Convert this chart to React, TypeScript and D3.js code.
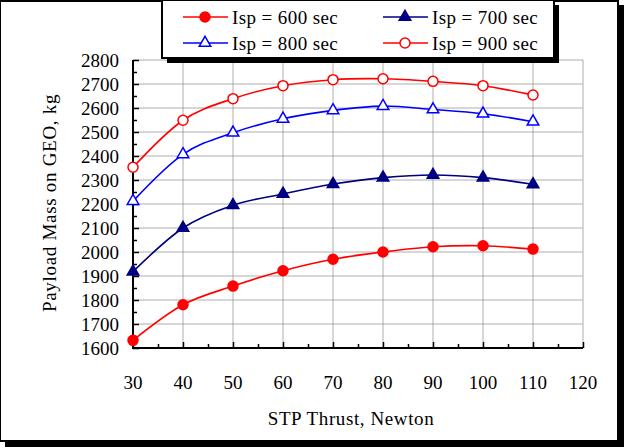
import React, { useEffect, useRef } from 'react';
import * as d3 from 'd3';

const thrust = [30, 40, 50, 60, 70, 80, 90, 100, 110];
const isp600 = [1632, 1780, 1858, 1922, 1970, 2000, 2022, 2026, 2012];
const isp700 = [1918, 2100, 2195, 2242, 2283, 2310, 2321, 2310, 2282];
const isp800 = [2212, 2407, 2497, 2555, 2590, 2608, 2594, 2576, 2543];
const isp900 = [2353, 2549, 2639, 2693, 2718, 2722, 2711, 2693, 2654];
const xTicks = [30, 40, 50, 60, 70, 80, 90, 100, 110, 120];
const yTicks = [1600, 1700, 1800, 1900, 2000, 2100, 2200, 2300, 2400, 2500, 2600, 2700, 2800];

interface Series {
  name: string;
  values: number[];
  color: string;
  shape: 'circle' | 'triangle';
  filled: boolean;
}

const series: Series[] = [
  { name: 'Isp = 600 sec', values: isp600, color: '#ff0000', shape: 'circle', filled: true },
  { name: 'Isp = 700 sec', values: isp700, color: '#000080', shape: 'triangle', filled: true },
  { name: 'Isp = 800 sec', values: isp800, color: '#0000ff', shape: 'triangle', filled: false },
  { name: 'Isp = 900 sec', values: isp900, color: '#ff0000', shape: 'circle', filled: false },
];

const FONT = "'Liberation Serif', 'Times New Roman', Times, serif";

const App: React.FC = () => {
  const svgRef = useRef<SVGSVGElement>(null);

  useEffect(() => {
    if (!svgRef.current) return;
    const W = 624;
    const H = 447;
    const plot = { left: 133, right: 583, top: 60, bottom: 348 };

    const svg = d3.select(svgRef.current);
    svg.selectAll('*').remove();

    // outer frame with shadow
    svg.append('rect').attr('x', 5).attr('y', 5).attr('width', W - 5).attr('height', H - 5).attr('fill', '#000');
    svg.append('rect').attr('x', 0).attr('y', 0).attr('width', 618).attr('height', 441)
      .attr('fill', '#fff').attr('stroke', '#000').attr('stroke-width', 2);
    svg.append('rect').attr('x', 0).attr('y', 0).attr('width', 618).attr('height', 2).attr('fill', '#000');

    const x = d3.scaleLinear().domain([30, 120]).range([plot.left, plot.right]);
    const y = d3.scaleLinear().domain([1600, 2800]).range([plot.bottom, plot.top]);

    // grid
    const grid = svg.append('g').attr('stroke', '#9a9a9a').attr('stroke-width', 0.8);
    xTicks.slice(1).forEach((t) => {
      grid.append('line').attr('x1', x(t)).attr('x2', x(t)).attr('y1', plot.top).attr('y2', plot.bottom);
    });
    yTicks.slice(1).forEach((t) => {
      grid.append('line').attr('x1', plot.left).attr('x2', plot.right).attr('y1', y(t)).attr('y2', y(t));
    });

    // axes
    const yAxis = svg.append('g').attr('transform', `translate(${plot.left},0)`);
    yAxis.call(
      d3.axisRight(y).tickValues(d3.range(1600, 2801, 50)).tickSize(6).tickFormat(() => '')
    );
    yAxis.select('.domain').remove();
    yAxis.append('line').attr('x1', 0).attr('x2', 0).attr('y1', plot.top).attr('y2', plot.bottom + 1)
      .attr('stroke', '#000').attr('stroke-width', 2);
    yAxis.selectAll('.tick line').attr('stroke', '#000').attr('stroke-width', 1.5)
      .attr('x2', (d) => ((d as number) % 100 === 0 ? 6 : 4));

    const xAxis = svg.append('g').attr('transform', `translate(0,${plot.bottom})`);
    xAxis.call(
      d3.axisTop(x).tickValues(d3.range(30, 121, 5)).tickSize(6).tickFormat(() => '')
    );
    xAxis.select('.domain').remove();
    xAxis.append('line').attr('x1', plot.left - 1).attr('x2', plot.right).attr('y1', 0).attr('y2', 0)
      .attr('stroke', '#000').attr('stroke-width', 2);
    xAxis.selectAll('.tick line').attr('stroke', '#000').attr('stroke-width', 1.5)
      .attr('y2', (d) => ((d as number) % 10 === 0 ? -6 : -4));

    // tick labels
    svg.append('g').selectAll('text').data(yTicks).enter().append('text')
      .attr('x', 119).attr('y', (d) => y(d)).attr('dy', '0.35em')
      .attr('text-anchor', 'end').attr('font-family', FONT).attr('font-size', 19)
      .text((d) => d);
    svg.append('g').selectAll('text').data(xTicks).enter().append('text')
      .attr('x', (d) => x(d)).attr('y', 389)
      .attr('text-anchor', 'middle').attr('font-family', FONT).attr('font-size', 19)
      .text((d) => d);

    // axis titles
    svg.append('text').attr('x', 351).attr('y', 425).attr('text-anchor', 'middle')
      .attr('font-family', FONT).attr('font-size', 19).attr('letter-spacing', 0.6)
      .text('STP Thrust, Newton');
    svg.append('text').attr('transform', 'translate(56,203) rotate(-90)').attr('text-anchor', 'middle')
      .attr('font-family', FONT).attr('font-size', 19).attr('letter-spacing', 0.7)
      .text('Payload Mass on GEO, kg');

    // series
    const line = d3.line<number>()
      .x((_d, i) => x(thrust[i]))
      .y((d) => y(d))
      .curve(d3.curveCatmullRom.alpha(0));

    const tri = d3.symbol().type(d3.symbolTriangle).size(58);

    const drawMarker = (g: d3.Selection<SVGGElement, unknown, null, undefined>, s: Series, cx: number, cy: number) => {
      if (s.shape === 'circle') {
        g.append('circle').attr('cx', cx).attr('cy', cy).attr('r', 5)
          .attr('fill', s.filled ? s.color : '#fff').attr('stroke', s.color).attr('stroke-width', 1.5);
      } else {
        g.append('path').attr('d', tri()!).attr('transform', `translate(${cx},${cy})`)
          .attr('fill', s.filled ? s.color : '#fff').attr('stroke', s.color).attr('stroke-width', 1.5);
      }
    };

    series.forEach((s) => {
      const g = svg.append('g');
      g.append('path').attr('d', line(s.values)!).attr('fill', 'none')
        .attr('stroke', s.color).attr('stroke-width', 1.6);
      s.values.forEach((v, i) => drawMarker(g, s, x(thrust[i]), y(v)));
    });

    // legend
    const lg = svg.append('g');
    lg.append('rect').attr('x', 167).attr('y', 5).attr('width', 392).attr('height', 58).attr('fill', '#000');
    lg.append('rect').attr('x', 162).attr('y', 0).attr('width', 392).attr('height', 58)
      .attr('fill', '#fff').attr('stroke', '#000').attr('stroke-width', 2);
    const legendPos = [
      { lx: 183, ly: 17 },
      { lx: 383, ly: 17 },
      { lx: 183, ly: 43 },
      { lx: 383, ly: 43 },
    ];
    series.forEach((s, i) => {
      const { lx, ly } = legendPos[i];
      const item = lg.append('g');
      item.append('line').attr('x1', lx).attr('x2', lx + 45).attr('y1', ly).attr('y2', ly)
        .attr('stroke', s.color).attr('stroke-width', 1.6);
      drawMarker(item, s, lx + 22, ly);
      item.append('text').attr('x', lx + 49).attr('y', ly).attr('dy', '0.35em')
        .attr('font-family', FONT).attr('font-size', 19).attr('letter-spacing', 0.4)
        .text(s.name);
    });
  }, []);

  return (
    <svg
      ref={svgRef}
      width={624}
      height={447}
      style={{ position: 'absolute', left: 0, top: 0, background: '#fff' }}
    ></svg>
  );
};

export default App;
